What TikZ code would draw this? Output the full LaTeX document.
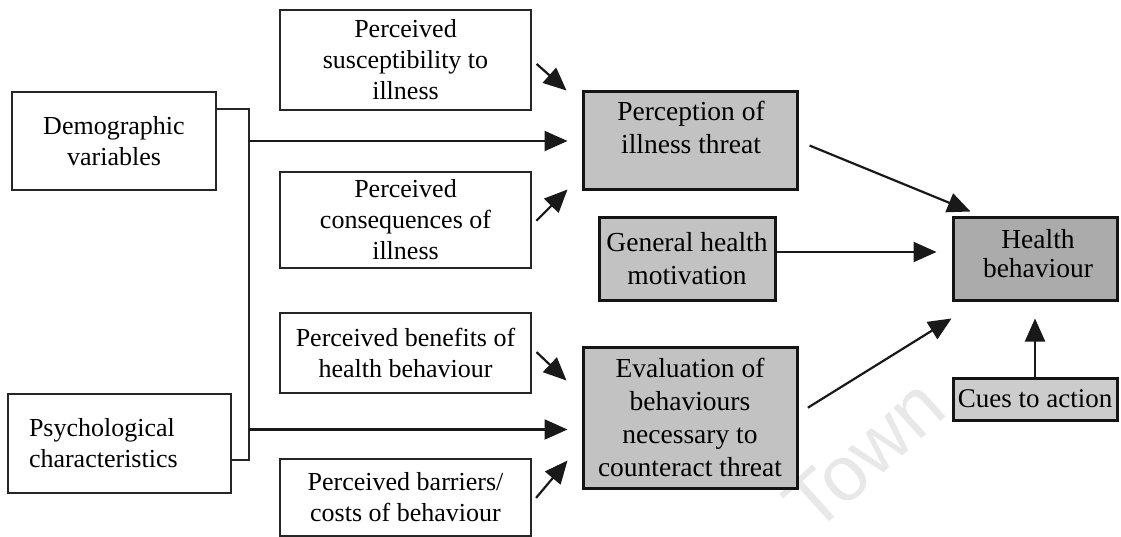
\documentclass[tikz,border=0pt]{standalone}
\usepackage{fontspec}
\setmainfont{Liberation Serif}
\newfontfamily\wmfont{Liberation Sans}
\usetikzlibrary{arrows.meta,calc}
\begin{document}
\begin{tikzpicture}[x=1pt,y=-1pt,
  box/.style={draw=black!85, line width=2.4pt, rectangle, inner sep=0pt,
    align=center, font=\fontsize{26}{31}\selectfont},
  plain/.style={box, fill=white},
  shade/.style={box, fill=black!24, draw=black!92, line width=3pt,
    font=\fontsize{27.5}{33}\selectfont},
  dark/.style={shade, fill=black!33},
  boxtext/.style={align=center, inner sep=0pt, font=\fontsize{27.5}{33}\selectfont},
  arr/.style={line width=2.2pt, draw=black!90,
    -{Triangle[length=23pt,width=20pt]}},
  link/.style={line width=1.8pt, draw=black!85},
]
\useasboundingbox (0,0) rectangle (1121,537);

% faint watermark behind everything
\node[rotate=42, text=black!9, inner sep=0pt,
      font=\wmfont\fontsize{78}{78}\selectfont] (wm) at (864,455) {Town};

% background variables
\node[plain, minimum width=204pt, minimum height=98pt] (demo) at (114,141)
  {Demographic\\variables};
\node[plain, minimum width=223pt, minimum height=99pt, text width=181pt,
      align=left] (psych) at (119.5,443.5)
  {Psychological\\characteristics};

% individual perceptions
\node[plain, minimum width=251pt, minimum height=100pt] (susc) at (405.5,60)
  {Perceived\\susceptibility to\\illness};
\node[plain, minimum width=251pt, minimum height=96pt] (cons) at (405.5,220)
  {Perceived\\consequences of\\illness};
\node[plain, minimum width=251pt, minimum height=80pt] (bene) at (405.5,353)
  {Perceived benefits of\\health behaviour};
\node[plain, minimum width=251pt, minimum height=77pt] (barr) at (405.5,497.5)
  {Perceived barriers/\\costs of behaviour};

% modifying factors
\node[shade, minimum width=214pt, minimum height=98pt] (perc) at (690,141) {};
\node[boxtext] (perctxt) at (691,127) {Perception of\\illness threat};
\node[shade, minimum width=176pt, minimum height=82pt] (gen) at (687,259)
  {General health\\motivation};
\node[shade, minimum width=214pt, minimum height=141pt] (eval) at (690,417.5)
  {Evaluation of\\behaviours\\necessary to\\counteract threat};

% outcome and cues
\node[dark, minimum width=164pt, minimum height=82pt] (health) at (1035,259) {};
\node[boxtext, font=\fontsize{27.5}{29}\selectfont] (healthtxt) at (1038,254)
  {Health\\behaviour};
\node[shade, fill=black!20, minimum width=164pt, minimum height=42pt,
      font=\fontsize{27}{32}\selectfont] (cues) at (1035,399) {Cues to action};

% bracket joining the two background variables
\draw[link] ($(demo.east)+(0,-32)$) -- ++(32,0) coordinate (jtop)
  |- ($(psych.east)+(0,16.5)$);
\coordinate (percin) at ($(perc.west)+(-14,0)$);
\coordinate (evalin) at ($(eval.west)+(-14,12)$);
\draw[arr] (jtop |- percin) -- (percin);
\draw[arr] (jtop |- evalin) -- (evalin);

% perceptions feeding the threat and evaluation boxes
\draw[arr, shorten <=6pt] (susc.east) -- ($(perc.north west)+(-15,0)$);
\draw[arr, shorten <=6pt] ($(cons.east)+(0,5)$) -- ($(perc.south west)+(-14,-2)$);
\draw[arr, shorten <=6pt] ($(bene.east)+(0,-5)$) -- ($(eval.west)+(-15,-37)$);
\draw[arr, shorten <=6pt] ($(barr.east)+(0,5)$) -- ($(eval.west)+(-14,43)$);

% paths into health behaviour
\draw[arr, shorten <=12pt] (perc.east) -- ($(health.north west)+(19,-5)$);
\draw[arr] ($(gen.east)+(0,-7)$) -- ($(health.west)+(-15,-7)$);
\draw[arr, shorten <=11pt] ($(eval.east)+(0,-4)$) -- ($(health.south west)+(0,17)$);
\draw[arr] (cues.north) -- ($(health.south)+(0,17)$);
\end{tikzpicture}
\end{document}
